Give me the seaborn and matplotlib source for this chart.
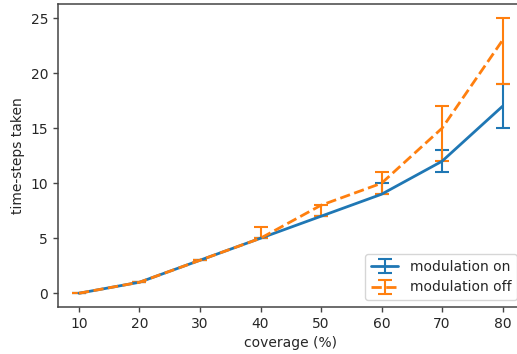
import matplotlib
matplotlib.use("Agg")
import matplotlib.pyplot as plt
import seaborn as sns
import numpy as np

sns.set_theme(style="ticks", rc={"axes.grid": False})
plt.rcParams["font.family"] = ["DejaVu Sans"]
plt.rcParams["font.size"] = 10

coverage = [10, 20, 30, 40, 50, 60, 70, 80]

# modulation on: mean, lower and upper bounds
on_mean = [0, 1, 3, 5, 7, 9, 12, 17]
on_low = [0, 1, 3, 5, 7, 9, 11, 15]
on_high = [0, 1, 3, 5, 7, 10, 13, 19]

# modulation off: mean, lower and upper bounds
off_mean = [0, 1, 3, 5, 8, 10, 15, 23]
off_low = [0, 1, 3, 5, 7, 9, 12, 19]
off_high = [0, 1, 3, 6, 8, 11, 17, 25]

colors = sns.color_palette("tab10", 2)

fig = plt.figure(figsize=(5.17, 3.54), dpi=100)
ax = fig.add_axes([0.1118, 0.1328, 0.9012, 0.8545])

for spine in ax.spines.values():
    spine.set_visible(True)
    spine.set_color("#444444")
    spine.set_linewidth(1.1)

def draw(mean, low, high, color, ls, label):
    mean = np.asarray(mean, float)
    yerr = np.vstack([mean - np.asarray(low, float), np.asarray(high, float) - mean])
    ax.errorbar(coverage, mean, yerr=yerr, color=color, linestyle=ls,
                linewidth=2.0, capsize=5, elinewidth=1.5, capthick=1.5, label=label)

draw(on_mean, on_low, on_high, colors[0], "-", "modulation on")
draw(off_mean, off_low, off_high, colors[1], "--", "modulation off")

ax.set_xticks([10, 20, 30, 40, 50, 60, 70, 80])
ax.set_yticks([0, 5, 10, 15, 20, 25])
ax.tick_params(axis="both", labelsize=10, length=3.5, width=1.0, color="#444444")
ax.set_xlabel("coverage (%)", fontsize=10)
ax.set_ylabel("time-steps taken", fontsize=10)
ax.legend(loc="lower right", fontsize=10, frameon=True, framealpha=0.8,
          edgecolor="#cccccc", fancybox=True)

fig.savefig("out.png", dpi=100)
